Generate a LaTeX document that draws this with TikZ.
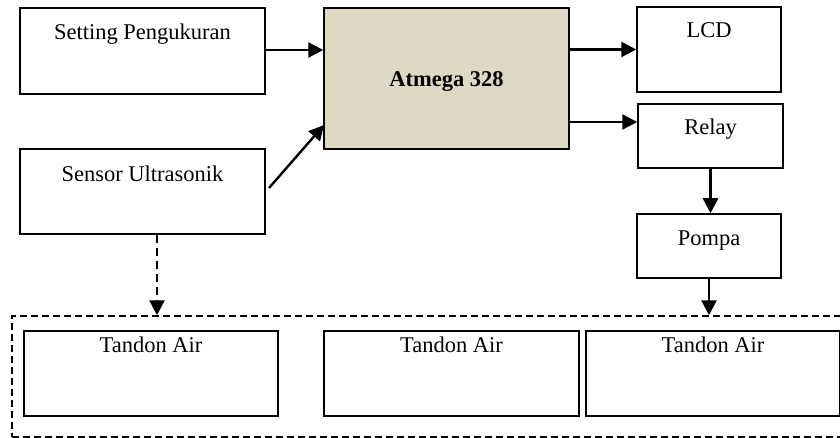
\documentclass[tikz,border=0pt]{standalone}
\usepackage{fontspec}
\setmainfont{Liberation Serif}
\usetikzlibrary{arrows.meta}
\definecolor{tanfill}{RGB}{221,217,195}
\tikzset{
  blk/.style={draw=black, line width=1.5pt, fill=white, inner sep=0pt},
  arr/.style={line width=2.4pt, -{Triangle[length=15pt,width=15pt]}},
  darr/.style={line width=2.4pt, dash pattern=on 8pt off 5pt, -{Triangle[length=15pt,width=15pt]}},
  txt/.style={font=\fontsize{22.5}{26}\selectfont, anchor=base, inner sep=0pt}
}
\begin{document}
\begin{tikzpicture}[x=1pt,y=-1pt]
\useasboundingbox (0,0) rectangle (840,438);
\fill[white] (0,0) rectangle (840,438);
\clip (0,0) rectangle (840,438);
% outer dashed frame
\node[draw, line width=1.5pt, dash pattern=on 7pt off 4pt, minimum width=860pt, minimum height=121pt, inner sep=0pt] (tank) at (442,376.5) {};
% boxes
\node[blk, minimum width=245pt, minimum height=86pt, label={[txt, yshift=-32.5pt]north:Setting Pengukuran}] (set) at (142.5,51) {};
\node[blk, minimum width=245pt, minimum height=85pt, label={[txt, yshift=-33pt]north:Sensor Ultrasonik}] (sen) at (142.5,191.5) {};
\node[blk, fill=tanfill, minimum width=245pt, minimum height=141pt, label={[txt, yshift=-79pt, font=\fontsize{22.5}{26}\selectfont\bfseries]north:Atmega 328}] (atm) at (446.5,78.5) {};
\node[blk, minimum width=144pt, minimum height=85pt, label={[txt, yshift=-31pt]north:LCD}] (lcd) at (709,49.5) {};
\node[blk, minimum width=145pt, minimum height=64pt, label={[txt, yshift=-31pt]north:Relay}] (rel) at (710.5,136) {};
\node[blk, minimum width=144pt, minimum height=64pt, label={[txt, yshift=-32pt]north:Pompa}] (pom) at (709,246) {};
\node[blk, minimum width=254pt, minimum height=85pt, label={[txt, yshift=-22pt]north:Tandon Air}] (t1) at (151,373.5) {};
\node[blk, minimum width=255pt, minimum height=85pt, label={[txt, yshift=-22pt]north:Tandon Air}] (t2) at (451.5,373.5) {};
\node[blk, minimum width=254pt, minimum height=85pt, label={[txt, yshift=-22pt]north:Tandon Air}] (t3) at (713,373.5) {};
% connectors
\coordinate (sendiag) at (269,188);
\coordinate (atmdiag) at (324,125);
\draw[arr] ([yshift=1pt]set.east) -- ([yshift=1pt]set.east -| atm.west);
\draw[arr] (sendiag) -- (atmdiag);
\draw[arr] (atm.east |- lcd) -- (lcd.west);
\draw[arr] ([yshift=-43.5pt]atm.east) -- ([yshift=-43.5pt]atm.east -| rel.west);
\draw[arr] (rel.south) -- (rel.south |- pom.north);
\draw[arr] (pom.south) -- (pom.south |- tank.north);
\draw[darr] ([xshift=14.5pt]sen.south) -- ([xshift=14.5pt]sen.south |- tank.north);
\end{tikzpicture}
\end{document}
